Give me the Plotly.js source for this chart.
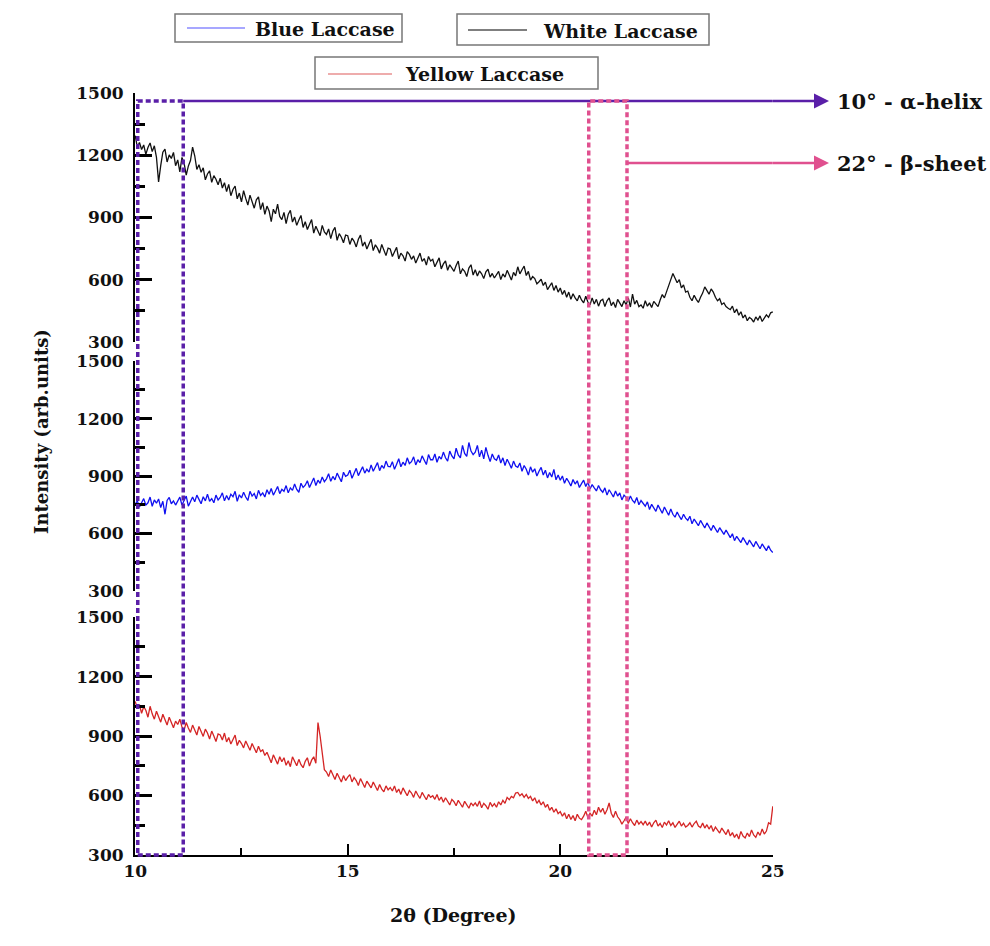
<!DOCTYPE html>
<html>
<head>
<meta charset="utf-8">
<script src="https://cdn.plot.ly/plotly-3.0.1.min.js"></script>
<style>html,body{margin:0;padding:0;background:#fff;}#chart{width:990px;height:946px;}</style>
</head>
<body>
<div id="chart"></div>
<script>
// 2θ sampling: start 10°, step 0.05°, to 25°
const thetaStart = 10;
const thetaStep = 0.05;

const whiteLaccase = [
1295,1240,1262,1228,1250,1205,1238,1260,1218,1246,1190,1072,1150,1215,1230,1168,1202,1185,1214,1150,
1178,1120,1190,1162,1105,1148,1175,1240,1198,1132,1155,1118,1140,1082,1110,1125,1070,1102,1085,1058,
1090,1042,1068,1025,1060,1005,1035,1052,990,1018,975,1030,992,960,1008,970,945,985,1000,938,
972,915,955,932,880,940,918,965,905,890,925,870,915,935,878,902,862,888,910,852,
880,842,868,890,825,858,835,812,862,830,818,845,798,835,852,790,822,805,778,815,
812,770,800,785,758,795,815,762,782,748,772,795,740,768,752,728,770,745,716,752,
748,712,738,756,700,728,715,690,735,722,698,715,680,708,728,688,702,670,712,690,
698,662,688,705,652,676,690,645,672,658,640,668,690,628,652,640,615,656,672,622,
648,618,642,628,605,638,650,612,630,608,622,640,600,628,612,645,622,598,635,618,
662,628,648,665,620,640,598,615,605,580,590,602,572,588,552,570,585,548,572,540,
560,528,548,515,540,505,532,512,498,525,502,488,520,492,478,512,482,505,472,498,
505,470,498,512,475,492,465,505,488,470,498,478,512,468,530,482,500,470,478,462,
498,472,488,466,495,480,470,502,528,512,545,575,600,630,610,585,600,560,575,540,
545,515,498,525,505,490,515,535,565,548,530,555,540,515,498,508,480,488,470,462,
455,472,440,458,428,445,415,430,402,418,410,395,420,405,425,398,412,430,418,440,
445];

const blueLaccase = [
752,770,738,765,782,748,760,790,742,775,758,780,735,768,700,772,788,755,770,748,
772,790,748,776,795,742,768,790,765,800,778,755,792,770,805,768,782,760,800,775,
788,812,770,798,775,805,792,820,768,802,785,815,790,772,820,795,808,780,825,798,
812,790,828,805,835,800,822,845,808,830,820,850,812,838,825,858,830,815,862,840,
852,875,840,868,890,850,878,862,895,870,885,912,872,898,880,915,892,870,920,898,
905,930,888,918,940,902,925,948,915,935,920,958,925,945,970,928,955,940,978,950,
948,975,935,962,990,948,972,955,995,965,975,1000,958,985,970,1005,978,960,1012,985,
985,1015,972,1002,988,1025,995,978,1030,1005,990,1045,1010,995,1060,1018,1002,1075,1030,1012,
1025,1060,1000,1035,990,1050,1008,975,1015,990,982,1010,968,995,955,988,965,940,978,952,
945,968,925,955,935,905,948,920,938,900,925,945,905,930,890,918,895,935,880,905,
878,900,862,888,870,848,882,858,875,840,860,878,845,868,832,855,838,822,850,828,
815,838,800,828,810,790,822,795,812,775,800,788,768,795,772,760,788,750,772,755,
742,765,725,752,735,715,748,722,705,738,712,695,728,700,685,712,690,672,700,680,
668,690,650,675,658,640,668,645,628,655,632,615,642,620,605,630,612,595,618,600,
578,598,562,585,570,552,578,555,540,565,545,530,558,535,520,545,525,510,535,512,
500];

const yellowLaccase = [
1075,1040,1058,1015,1048,1030,995,1050,1012,985,1025,1000,970,1010,985,955,995,968,942,975,
958,985,945,930,968,940,918,955,932,905,948,925,898,935,915,885,925,900,872,910,
905,880,915,870,892,860,885,905,852,878,862,840,875,850,828,862,838,815,848,822,
830,802,818,790,765,805,780,758,795,770,790,752,775,745,795,768,750,782,755,740,
772,790,748,778,795,762,968,900,805,730,718,695,728,705,680,712,690,668,700,675,
692,705,668,690,675,650,685,662,640,672,655,638,668,645,625,655,632,618,648,628,
640,622,648,615,632,605,638,618,598,625,612,590,622,602,585,615,595,578,605,590,
598,580,605,575,592,565,588,570,552,580,568,548,575,558,540,570,552,535,562,548,
562,545,572,538,560,548,530,565,545,558,540,568,552,575,560,590,578,595,588,612,
615,598,608,590,605,585,595,572,588,560,575,552,568,540,555,525,540,515,532,508,
518,495,512,482,505,478,498,472,505,485,478,495,520,488,510,495,525,502,540,515,
535,505,528,562,510,488,520,492,478,455,472,490,458,482,462,448,475,455,468,452,
470,448,465,440,462,475,445,458,438,465,450,472,448,462,438,455,470,445,460,440,
448,462,440,458,470,445,438,460,435,452,430,448,418,440,425,410,435,415,402,428,
395,412,388,405,380,418,395,385,410,392,425,400,388,415,398,430,405,420,462,455,
545];

const legendNames = ["Blue Laccase", "White Laccase", "Yellow Laccase"];
const yTickVals = [300, 600, 900, 1200, 1500];
const xTickVals = [10, 15, 20, 25];
const alphaBand = [10.06, 11.13];
const betaBand = [20.67, 21.57];
const alphaLabel = "10\u00B0 - \u03B1-helix";
const betaLabel = "22\u00B0 - \u03B2-sheet";

const serif = "DejaVu Serif, serif";
const tickFont = {family: serif, size: 17, color: "#111", weight: "bold"};

// pixel helpers (plot area: left 135, right 773, top 93, bottom 855)
const L = 135, R = 773, T = 93, B = 855;
const px = v => (v - L) / (R - L);
const py = v => (B - v) / (B - T);

function yax(domain) {
  return {
    domain: domain, range: [299, 1501], tickmode: "array", tickvals: yTickVals,
    anchor: "x", side: "left",
    showline: true, linecolor: "#000", linewidth: 2,
    ticks: "inside", ticklen: 17, tickwidth: 3, tickcolor: "#000",
    minor: {dtick: 150, ticks: "inside", ticklen: 10, tickwidth: 3, tickcolor: "#000"},
    showgrid: false, zeroline: false, tickfont: tickFont, ticklabelstandoff: 6
  };
}

const traces = [
  {x0: thetaStart, dx: thetaStep, y: whiteLaccase, type: "scatter", mode: "lines",
   line: {color: "#111", width: 1.3}, xaxis: "x", yaxis: "y", name: legendNames[1], showlegend: false},
  {x0: thetaStart, dx: thetaStep, y: blueLaccase, type: "scatter", mode: "lines",
   line: {color: "#1010f0", width: 1.3}, xaxis: "x", yaxis: "y2", name: legendNames[0], showlegend: false},
  {x0: thetaStart, dx: thetaStep, y: yellowLaccase, type: "scatter", mode: "lines",
   line: {color: "#d42525", width: 1.3}, xaxis: "x", yaxis: "y3", name: legendNames[2], showlegend: false}
];

const purple = "#5a1fa8";
const pink = "#e0508f";
const topY = py(101);
const betaArrowY = py(163);

const shapes = [
  {type: "rect", xref: "paper", yref: "paper", x0: px(175), x1: px(402), y0: py(42), y1: py(14), line: {color: "#777", width: 1.5}, fillcolor: "#fff"},
  {type: "line", xref: "paper", yref: "paper", x0: px(187), x1: px(245), y0: py(28), y1: py(28), line: {color: "#8a8aff", width: 1.5}},
  {type: "rect", xref: "paper", yref: "paper", x0: px(457), x1: px(709), y0: py(45), y1: py(14), line: {color: "#777", width: 1.5}, fillcolor: "#fff"},
  {type: "line", xref: "paper", yref: "paper", x0: px(468), x1: px(527), y0: py(30), y1: py(30), line: {color: "#555", width: 1.5}},
  {type: "rect", xref: "paper", yref: "paper", x0: px(315), x1: px(598), y0: py(89), y1: py(57), line: {color: "#777", width: 1.5}, fillcolor: "#fff"},
  {type: "line", xref: "paper", yref: "paper", x0: px(328), x1: px(392), y0: py(74), y1: py(74), line: {color: "#e89090", width: 1.5}},
  {type: "rect", xref: "x", yref: "paper", x0: alphaBand[0], x1: alphaBand[1], y0: 0, y1: topY, line: {color: purple, width: 3.5, dash: "5px,3px"}},
  {type: "line", xref: "x", yref: "paper", x0: alphaBand[1], x1: 25, y0: topY, y1: topY, line: {color: purple, width: 2.5}},
  {type: "line", xref: "paper", yref: "paper", x0: 1, x1: px(822), y0: topY, y1: topY, line: {color: purple, width: 2.5}},
  {type: "rect", xref: "x", yref: "paper", x0: betaBand[0], x1: betaBand[1], y0: 0, y1: topY, line: {color: pink, width: 3.5, dash: "5px,3px"}},
  {type: "line", xref: "x", yref: "paper", x0: betaBand[1], x1: 25, y0: betaArrowY, y1: betaArrowY, line: {color: pink, width: 2.5}},
  {type: "line", xref: "paper", yref: "paper", x0: 1, x1: px(822), y0: betaArrowY, y1: betaArrowY, line: {color: pink, width: 2.5}}
];

const lblFont = {family: serif, size: 19, color: "#111", weight: "bold"};
const sideFont = {family: serif, size: 21, color: "#111", weight: "bold"};
const annotations = [
  {xref: "paper", yref: "paper", x: px(253), y: py(29), text: legendNames[0], showarrow: false, xanchor: "left", yanchor: "middle", font: lblFont},
  {xref: "paper", yref: "paper", x: px(541), y: py(31), text: legendNames[1], showarrow: false, xanchor: "left", yanchor: "middle", font: lblFont},
  {xref: "paper", yref: "paper", x: px(403), y: py(74), text: legendNames[2], showarrow: false, xanchor: "left", yanchor: "middle", font: lblFont},
  {xref: "paper", yref: "paper", x: px(829), y: topY, ax: -14, ay: 0, text: "", showarrow: true, arrowhead: 2, arrowsize: 1.2, arrowwidth: 2.5, arrowcolor: purple},
  {xref: "paper", yref: "paper", x: px(829), y: betaArrowY, ax: -14, ay: 0, text: "", showarrow: true, arrowhead: 2, arrowsize: 1.2, arrowwidth: 2.5, arrowcolor: pink},
  {xref: "paper", yref: "paper", x: px(835), y: topY, text: alphaLabel, showarrow: false, xanchor: "left", yanchor: "middle", font: sideFont},
  {xref: "paper", yref: "paper", x: px(835), y: betaArrowY, text: betaLabel, showarrow: false, xanchor: "left", yanchor: "middle", font: sideFont},
  {xref: "paper", yref: "paper", x: px(42), y: py(431), text: "Intensity (arb.units)", textangle: -90, showarrow: false, xanchor: "center", yanchor: "middle", font: {family: serif, size: 18, color: "#111", weight: "bold"}},
  {xref: "paper", yref: "paper", x: px(453), y: py(915), text: "2\u03B8 (Degree)", showarrow: false, xanchor: "center", yanchor: "middle", font: {family: serif, size: 19, color: "#111", weight: "bold"}}
];

const layout = {
  width: 990, height: 946,
  margin: {l: L, r: 990 - R, t: T, b: 946 - B, pad: 0},
  paper_bgcolor: "#fff", plot_bgcolor: "rgba(0,0,0,0)",
  showlegend: false,
  xaxis: {
    range: [9.995, 25.005], tickmode: "array", tickvals: xTickVals, anchor: "y3",
    showline: true, linecolor: "#000", linewidth: 2,
    ticks: "inside", ticklen: 11, tickwidth: 2, tickcolor: "#000",
    minor: {dtick: 2.5, ticks: "inside", ticklen: 7, tickwidth: 2, tickcolor: "#000"},
    showgrid: false, zeroline: false, tickfont: tickFont
  },
  yaxis: yax([py(342), 1]),
  yaxis2: yax([py(591), py(361)]),
  yaxis3: yax([0, py(617)]),
  shapes: shapes,
  annotations: annotations
};

Plotly.newPlot("chart", traces, layout, {displayModeBar: false, staticPlot: true});
</script>
</body>
</html>
